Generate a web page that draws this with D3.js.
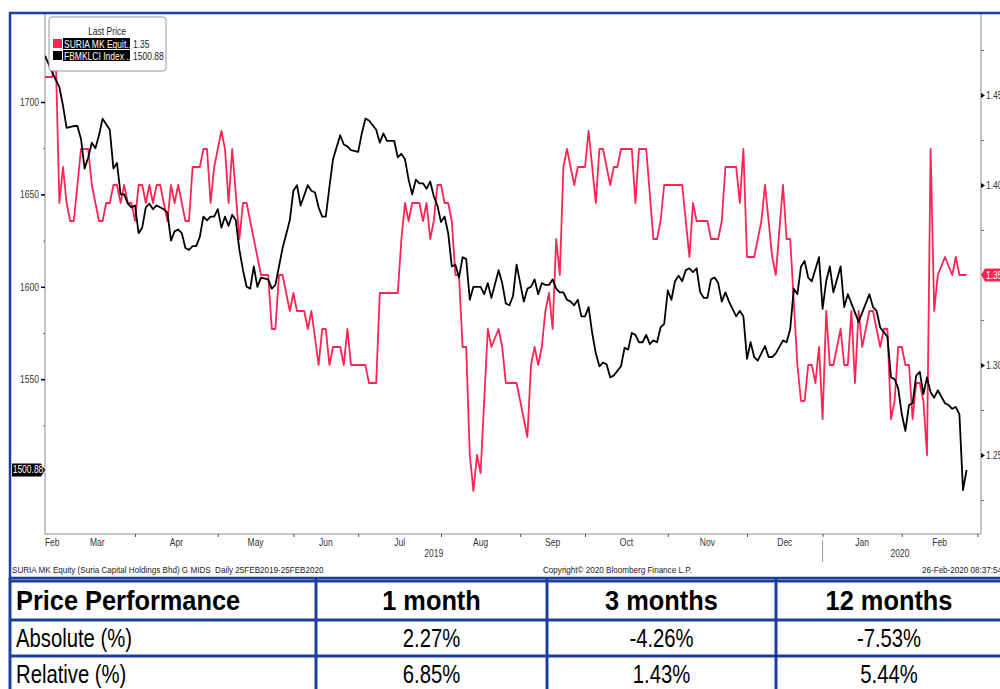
<!DOCTYPE html>
<html>
<head>
<meta charset="utf-8">
<script src="https://cdn.jsdelivr.net/npm/d3@7"></script>
<style>
  body { margin: 0; background: #fff; }
  svg { display: block; }
</style>
</head>
<body>
<div id="container"></div>
<script>
// trading-day index (0 = 25 Feb 2019) and closing values
const suriaDays = [0,2,3,4,5,6,7,8,10,12,13,15,16,17,18,19,20,21,22,23,24,25,26,27,28,29,30,31,32,34,35,36,37,39,40,41,43,44,45,46,47,49,50,51,52,54,55,56,60,62,63,64,65,66,68,69,70,72,73,74,76,77,78,79,80,82,83,84,85,89,90,92,93,98,99,100,101,102,104,105,106,107,108,109,110,111,112,113,114,115,116,117,118,119,120,121,123,124,126,127,128,131,132,134,135,136,137,138,139,140,141,142,143,144,145,147,148,150,151,152,153,154,155,157,158,159,160,163,164,165,167,169,170,171,172,177,179,180,181,184,185,187,188,189,192,193,194,195,197,199,200,202,203,205,206,207,209,210,211,212,213,214,215,216,217,218,219,221,222,223,224,225,226,227,229,230,232,233,234,235,236,237,238,239,240,241,242,243,244,245,246,247,248,250,252,253,254,256]
const suriaVals = [1.46,1.46,1.47,1.39,1.41,1.39,1.38,1.38,1.42,1.42,1.40,1.38,1.38,1.39,1.39,1.40,1.40,1.39,1.40,1.39,1.39,1.38,1.40,1.40,1.39,1.40,1.39,1.40,1.40,1.38,1.40,1.39,1.40,1.38,1.38,1.41,1.41,1.42,1.42,1.39,1.41,1.43,1.42,1.39,1.42,1.37,1.39,1.39,1.35,1.35,1.32,1.32,1.35,1.35,1.33,1.34,1.33,1.33,1.32,1.33,1.30,1.32,1.32,1.30,1.31,1.31,1.30,1.32,1.30,1.30,1.29,1.29,1.34,1.34,1.37,1.39,1.38,1.39,1.39,1.38,1.39,1.37,1.38,1.40,1.40,1.39,1.39,1.38,1.35,1.35,1.31,1.31,1.25,1.23,1.25,1.24,1.32,1.31,1.32,1.31,1.29,1.29,1.28,1.26,1.30,1.31,1.30,1.31,1.33,1.34,1.32,1.37,1.35,1.41,1.42,1.40,1.41,1.41,1.43,1.41,1.39,1.42,1.42,1.40,1.41,1.41,1.42,1.42,1.39,1.42,1.42,1.37,1.37,1.38,1.40,1.40,1.36,1.39,1.38,1.38,1.37,1.37,1.38,1.41,1.41,1.39,1.42,1.36,1.36,1.38,1.40,1.36,1.35,1.40,1.37,1.37,1.30,1.28,1.28,1.30,1.30,1.29,1.31,1.27,1.33,1.30,1.30,1.32,1.30,1.30,1.33,1.29,1.33,1.31,1.33,1.33,1.31,1.32,1.32,1.27,1.28,1.31,1.31,1.30,1.30,1.27,1.29,1.29,1.28,1.25,1.42,1.33,1.35,1.36,1.35,1.36,1.35,1.35]

const klciDays = [0,2,4,5,6,8,9,10,11,12,13,14,15,16,17,18,19,20,21,22,23,24,25,26,27,28,29,30,31,33,34,35,36,37,38,39,40,41,42,43,44,45,46,47,48,49,50,51,52,53,54,55,56,57,58,59,60,62,63,64,65,66,68,69,70,71,73,74,75,76,77,78,79,80,82,83,84,85,87,88,89,90,92,93,94,95,97,98,99,100,101,102,103,104,105,106,107,108,109,110,111,112,113,114,115,116,117,118,119,121,122,123,124,126,127,128,129,130,131,133,134,135,136,137,138,139,140,141,142,143,144,145,146,147,148,149,150,151,152,153,154,155,156,157,158,160,161,162,163,164,165,166,167,168,169,170,171,172,173,174,175,176,177,178,179,180,181,182,183,184,185,186,187,188,189,190,192,193,194,195,196,197,198,200,201,202,203,205,206,207,208,209,210,211,212,213,215,216,217,218,219,221,222,223,224,226,227,229,230,231,232,234,235,236,237,238,239,240,241,242,243,244,245,246,247,248,250,251,252,253,254,255,256]
const klciVals = [1725,1716,1708,1698,1686,1687,1687,1680,1664,1670,1678,1675,1682,1691,1688,1685,1664,1667,1650,1650,1645,1643,1644,1629,1632,1643,1645,1642,1644,1642,1640,1625,1630,1631,1629,1621,1620,1622,1622,1627,1638,1636,1638,1638,1642,1632,1638,1633,1639,1636,1620,1609,1600,1599,1611,1600,1605,1604,1599,1601,1611,1621,1636,1652,1655,1644,1655,1652,1651,1643,1638,1638,1654,1669,1682,1677,1676,1674,1673,1683,1691,1690,1685,1678,1683,1679,1679,1670,1672,1669,1658,1650,1658,1656,1656,1653,1657,1649,1644,1635,1638,1629,1611,1612,1605,1616,1615,1593,1600,1600,1596,1602,1594,1609,1602,1591,1590,1595,1612,1592,1599,1600,1604,1596,1602,1601,1601,1604,1599,1597,1597,1593,1592,1590,1593,1584,1584,1589,1575,1564,1557,1559,1558,1551,1552,1557,1567,1566,1575,1574,1570,1570,1574,1569,1571,1570,1578,1580,1598,1593,1603,1606,1603,1609,1610,1608,1610,1597,1594,1594,1604,1605,1602,1592,1597,1592,1584,1587,1584,1561,1570,1562,1560,1568,1562,1562,1564,1571,1570,1577,1599,1596,1611,1614,1605,1603,1616,1588,1603,1611,1597,1611,1589,1596,1591,1581,1586,1596,1589,1587,1578,1573,1551,1550,1545,1531,1522,1536,1537,1552,1554,1542,1551,1543,1540,1544,1537,1536,1534,1535,1531,1490,1500.88]

const monthBreaks = [0, 4, 25, 48, 69, 87, 110, 132, 150, 173, 195, 216, 238, 259]
const monthLabels = ["Feb", "Mar", "Apr", "May", "Jun", "Jul", "Aug", "Sep", "Oct", "Nov", "Dec", "Jan", "Feb"]
const yearBreaks = [0, 216, 259]
const yearLabels = ["2019", "2020"]

const klciTicks = [1550, 1600, 1650, 1700]
const klciMinor = [1525, 1575, 1625, 1675]
const suriaTicks = [1.25, 1.30, 1.40, 1.45]
const suriaMinor = [1.225, 1.275, 1.325, 1.375, 1.425, 1.475]

const legendNames = ["SURIA MK Equit...", "FBMKLCI Index ..."]
const legendLast = ["1.35", "1500.88"]

const perfHeader = ["Price Performance", "1 month", "3 months", "12 months"]
const perfAbsolute = ["Absolute (%)", "2.27%", "-4.26%", "-7.53%"]
const perfRelative = ["Relative (%)", "6.85%", "1.43%", "5.44%"]

const container = document.querySelector("#container")
const width = 1000
const height = 689
const blue = "#1d3f9c"
const red = "#ff2452"

// no narrow font installed, so squeeze text horizontally instead
function squeeze(sel, sx){
    sel.each(function(){
        const t = d3.select(this)
        const x0 = +t.attr("x") || 0
        const y0 = +t.attr("y") || 0
        t.attr("x", 0).attr("y", 0)
         .attr("transform", `translate(${x0},${y0}) scale(${sx},1)`)
    })
}

const svg = d3.create("svg")
            .attr("width", width)
            .attr("height", height)
            .style("font-family", "'Liberation Sans', Arial, sans-serif")

const plot = {left: 45, right: 981, top: 14, bottom: 534}

const x = d3.scaleLinear().domain([0, 259]).range([45, 977.4])
const yL = d3.scaleLinear().domain([1500, 1700]).range([471.6, 102])
const yR = d3.scaleLinear().domain([1.25, 1.45]).range([455, 95])

svg.append("clipPath").attr("id", "plotclip")
    .append("rect")
    .attr("x", plot.left).attr("y", plot.top)
    .attr("width", plot.right - plot.left).attr("height", plot.bottom - plot.top)

svg.append("path")
    .attr("d", `M${plot.left},${plot.top}V${plot.bottom}H${plot.right}V${plot.top}`)
    .attr("fill", "none")
    .attr("stroke", "#8c8c8c")
    .attr("stroke-width", 1)

const suria = suriaDays.map((d, i) => ({d: d, v: suriaVals[i]}))
const klci = klciDays.map((d, i) => ({d: d, v: klciVals[i]}))

const lines = svg.append("g").attr("clip-path", "url(#plotclip)")

lines.append("path")
    .datum(suria)
    .attr("fill", "none")
    .attr("stroke", red)
    .attr("stroke-width", 1.8)
    .attr("stroke-linejoin", "round")
    .attr("d", d3.line().x(d => x(d.d)).y(d => yR(d.v)))

lines.append("path")
    .datum(klci)
    .attr("fill", "none")
    .attr("stroke", "#000")
    .attr("stroke-width", 1.8)
    .attr("stroke-linejoin", "round")
    .attr("d", d3.line().x(d => x(d.d)).y(d => yL(d.v)))

// left axis
const leftAxis = svg.append("g")
    .attr("transform", `translate(${plot.left},0)`)
    .call(d3.axisLeft(yL).tickValues(klciTicks).tickSize(4).tickPadding(2).tickFormat(d3.format("d")))
leftAxis.select(".domain").remove()
leftAxis.selectAll(".tick line").attr("stroke", "#000").attr("stroke-width", 1.5)
leftAxis.selectAll("text").attr("font-size", 10).attr("fill", "#333").attr("font-family", null)
squeeze(leftAxis.selectAll("text"), 0.85)

const leftMinor = svg.append("g")
    .attr("transform", `translate(${plot.left},0)`)
    .call(d3.axisLeft(yL).tickValues(klciMinor).tickSize(2).tickFormat(""))
leftMinor.select(".domain").remove()
leftMinor.selectAll(".tick line").attr("stroke", "#777")

// right axis
const rightAxis = svg.append("g")
    .attr("transform", `translate(${plot.right},0)`)
    .call(d3.axisRight(yR).tickValues(suriaTicks).tickSize(4).tickPadding(1).tickFormat(d3.format(".2f")))
rightAxis.select(".domain").remove()
rightAxis.selectAll(".tick line").remove()
rightAxis.selectAll(".tick").append("path").attr("d", "M0,-2.5L4,0L0,2.5Z").attr("fill", "#000")
rightAxis.selectAll("text").attr("font-size", 10).attr("fill", "#333").attr("font-family", null)
squeeze(rightAxis.selectAll("text"), 0.85)

const rightMinor = svg.append("g")
    .attr("transform", `translate(${plot.right},0)`)
    .call(d3.axisRight(yR).tickValues(suriaMinor).tickSize(3).tickFormat(""))
rightMinor.select(".domain").remove()
rightMinor.selectAll(".tick line").attr("stroke", "#777")

// bottom axis
const bottomAxis = svg.append("g")
    .attr("transform", `translate(0,${plot.bottom})`)
    .call(d3.axisBottom(x).tickValues(monthBreaks.slice(2)).tickSize(3).tickFormat(""))
bottomAxis.select(".domain").remove()
bottomAxis.selectAll(".tick line").attr("stroke", "#555")

const chartText = svg.append("g").attr("fill", "#333").attr("font-size", 10)

chartText.selectAll(".month")
    .data(monthLabels)
    .enter()
    .append("text")
    .attr("class", "month")
    .attr("x", (d, i) => x((monthBreaks[i] + monthBreaks[i + 1]) / 2))
    .attr("y", 546)
    .attr("text-anchor", "middle")
    .text(d => d)

chartText.selectAll(".year")
    .data(yearLabels)
    .enter()
    .append("text")
    .attr("class", "year")
    .attr("x", (d, i) => x((yearBreaks[i] + yearBreaks[i + 1]) / 2))
    .attr("y", 557)
    .attr("text-anchor", "middle")
    .text(d => d)

svg.append("line")
    .attr("x1", x(yearBreaks[1])).attr("x2", x(yearBreaks[1]))
    .attr("y1", 540).attr("y2", 562)
    .attr("stroke", "#999")

// last value tags
const lastK = klciVals[klciVals.length - 1]
const lastS = suriaVals[suriaVals.length - 1]
const ky = yL(lastK)
const sy = yR(lastS)

const tags = svg.append("g").attr("font-size", 10)

tags.append("path")
    .attr("d", `M12,${ky - 6.5}H41L45,${ky}L41,${ky + 6.5}H12Z`)
    .attr("fill", "#000")
tags.append("text")
    .attr("x", 28).attr("y", ky + 3.5)
    .attr("text-anchor", "middle")
    .attr("fill", "#fff")
    .text(d3.format(".2f")(lastK))

tags.append("path")
    .attr("d", `M${plot.right},${sy}L${plot.right + 4},${sy - 6.5}H1000V${sy + 6.5}H${plot.right + 4}Z`)
    .attr("fill", red)
tags.append("text")
    .attr("x", plot.right + 5).attr("y", sy + 3.5)
    .attr("fill", "#fff")
    .text(d3.format(".2f")(lastS))

// legend
const legend = svg.append("g").attr("font-size", 10)
legend.append("rect")
    .attr("x", 49).attr("y", 17)
    .attr("width", 117).attr("height", 54)
    .attr("rx", 3)
    .attr("fill", "#fff")
    .attr("stroke", "#999")
legend.append("text")
    .attr("x", 107).attr("y", 35)
    .attr("text-anchor", "middle")
    .attr("fill", "#222")
    .text("Last Price")

const legendRow = legend.selectAll(".item")
    .data(legendNames)
    .enter()
    .append("g")
    .attr("class", "item")
    .attr("transform", (d, i) => `translate(0,${39 + i * 12})`)

legendRow.append("rect")
    .attr("x", 53).attr("y", 0)
    .attr("width", 9).attr("height", 9)
    .attr("fill", (d, i) => i === 0 ? red : "#000")
legendRow.append("rect")
    .attr("x", 63).attr("y", -1)
    .attr("width", 67).attr("height", 11)
    .attr("fill", "#000")
legendRow.append("text")
    .attr("x", 64).attr("y", 8.5)
    .attr("fill", "#fff")
    .text(d => d)
legendRow.append("text")
    .attr("x", 133).attr("y", 8.5)
    .attr("fill", "#222")
    .text((d, i) => legendLast[i])

// footer
const footer = svg.append("g").attr("font-size", 9).attr("fill", "#222")
footer.append("text")
    .attr("x", 12).attr("y", 573)
    .attr("xml:space", "preserve")
    .text("SURIA MK Equity (Suria Capital Holdings Bhd) G MIDS  Daily 25FEB2019-25FEB2020")
footer.append("text")
    .attr("x", 543).attr("y", 573)
    .text("Copyright\u00a9 2020 Bloomberg Finance L.P.")
footer.append("text")
    .attr("x", 922).attr("y", 573)
    .text("26-Feb-2020 08:37:54")

squeeze(chartText.selectAll("text"), 0.85)
squeeze(tags.selectAll("text"), 0.85)
squeeze(legend.selectAll("text"), 0.85)
squeeze(footer.selectAll("text"), 0.9)

// outer frame
svg.append("path")
    .attr("d", "M1004,13H10V578H1004")
    .attr("fill", "none")
    .attr("stroke", blue)
    .attr("stroke-width", 2.5)

// performance table
const colEdges = [10, 316, 547, 776, 1002]
const rowEdges = [581, 620, 656, 692]
const tableRows = [perfHeader, perfAbsolute, perfRelative]
const table = svg.append("g")

table.selectAll(".hline")
    .data(rowEdges)
    .enter()
    .append("line")
    .attr("x1", 10).attr("x2", 1002)
    .attr("y1", d => d).attr("y2", d => d)
    .attr("stroke", blue)
    .attr("stroke-width", 3)

table.selectAll(".vline")
    .data(colEdges)
    .enter()
    .append("line")
    .attr("x1", d => d).attr("x2", d => d)
    .attr("y1", 578).attr("y2", 692)
    .attr("stroke", blue)
    .attr("stroke-width", 3)

tableRows.forEach((row, r) => {
    const cy = (rowEdges[r] + rowEdges[r + 1]) / 2
    const cells = table.selectAll(".cell" + r)
        .data(row)
        .enter()
        .append("text")
        .attr("class", "cell" + r)
        .attr("x", (d, i) => i === 0 ? 16 : (colEdges[i] + colEdges[i + 1]) / 2)
        .attr("y", cy + 9)
        .attr("text-anchor", (d, i) => i === 0 ? "start" : "middle")
        .attr("font-size", r === 0 ? 27 : 26)
        .attr("font-weight", r === 0 ? "bold" : "normal")
        .attr("fill", "#000")
        .text(d => d)
    squeeze(cells, r === 0 ? 0.94 : 0.78)
})

container.appendChild(svg.node())
</script>
</body>
</html>
